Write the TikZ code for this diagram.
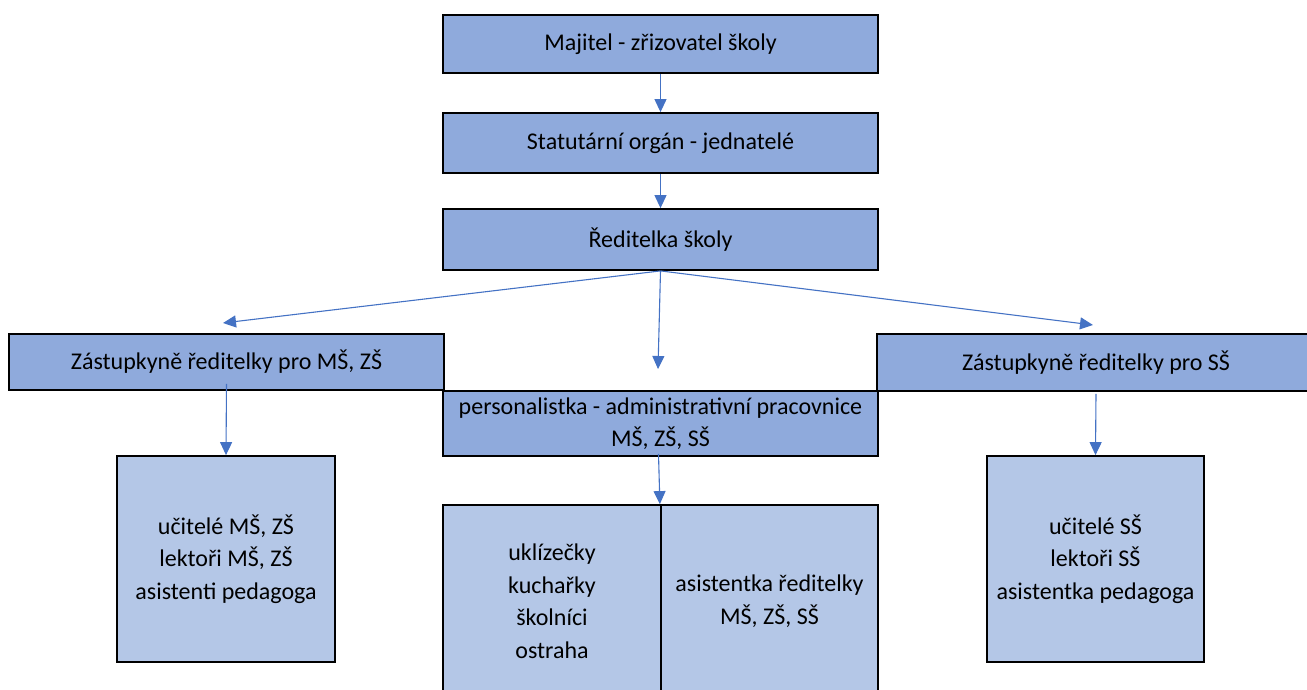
\documentclass[tikz,border=0pt]{standalone}
\usepackage{fontspec}
\setmainfont{Carlito}
\usetikzlibrary{arrows.meta}
\definecolor{boxdark}{HTML}{8FAADC}
\definecolor{boxlight}{HTML}{B4C7E7}
\definecolor{arrowblue}{HTML}{4472C4}
\tikzset{
  box/.style={draw=black, line width=1.8pt, fill=boxdark, inner sep=0pt, align=center,
    font=\fontsize{24}{32.5}\selectfont},
  lightbox/.style={box, fill=boxlight},
  conn/.style={draw=arrowblue, line width=1.1pt, -{Triangle[length=13pt,width=12pt]}}
}
\begin{document}
\begin{tikzpicture}[x=1pt,y=-1pt]
\useasboundingbox (0,0) rectangle (1307,689);
\clip (0,0) rectangle (1307,689);
% top chain
\node[box, minimum width=435pt, minimum height=58pt] (maj) at (660.5,44) {Majitel - zřizovatel školy};
\node[box, minimum width=435pt, minimum height=60pt] (stat) at (660.5,143) {Statutární orgán - jednatelé};
\node[box, minimum width=435pt, minimum height=61pt] (red) at (660.5,239.5) {Ředitelka školy};
% deputies
\node[box, minimum width=435pt, minimum height=56pt] (zl) at (226.5,362) {Zástupkyně ředitelky pro MŠ, ZŠ};
\node[box, minimum width=438pt, minimum height=57pt] (zr) at (1096,362.5) {Zástupkyně ředitelky pro SŠ};
\node[box, minimum width=435pt, minimum height=65pt] (pers) at (660.5,423.5) {personalistka - administrativní pracovnice\\MŠ, ZŠ, SŠ};
% lower boxes
\node[lightbox, minimum width=218pt, minimum height=206pt] (ul) at (226,559) {učitelé MŠ, ZŠ\\lektoři MŠ, ZŠ\\asistenti pedagoga};
\node[lightbox, minimum width=217pt, minimum height=206pt] (ur) at (1095.5,559) {učitelé SŠ\\lektoři SŠ\\asistentka pedagoga};
\node[lightbox, minimum width=218pt, minimum height=192pt] (ml) at (552,601) {uklízečky\\kuchařky\\školníci\\ostraha};
\node[lightbox, minimum width=217pt, minimum height=192pt] (mr) at (769.5,601) {asistentka ředitelky\\MŠ, ZŠ, SŠ};
% free ends
\coordinate (tl) at (223,323);
\coordinate (tc) at (658,369);
\coordinate (tr) at (1093,325);
% connectors
\draw[conn] (maj.south) -- (stat.north);
\draw[conn] (stat.south) -- (red.north);
\draw[conn] (red.south) -- (tl);
\draw[conn] (red.south) -- (tc);
\draw[conn] (red.south) -- (tr);
\draw[conn] ([yshift=7pt]zl.south) -- (ul.north);
\draw[conn] ([yshift=-2pt]zr.south) -- (ur.north);
\draw[conn] ([xshift=-2pt,yshift=3pt]pers.south) -- ([xshift=-2pt]ml.north east);
\end{tikzpicture}
\end{document}
